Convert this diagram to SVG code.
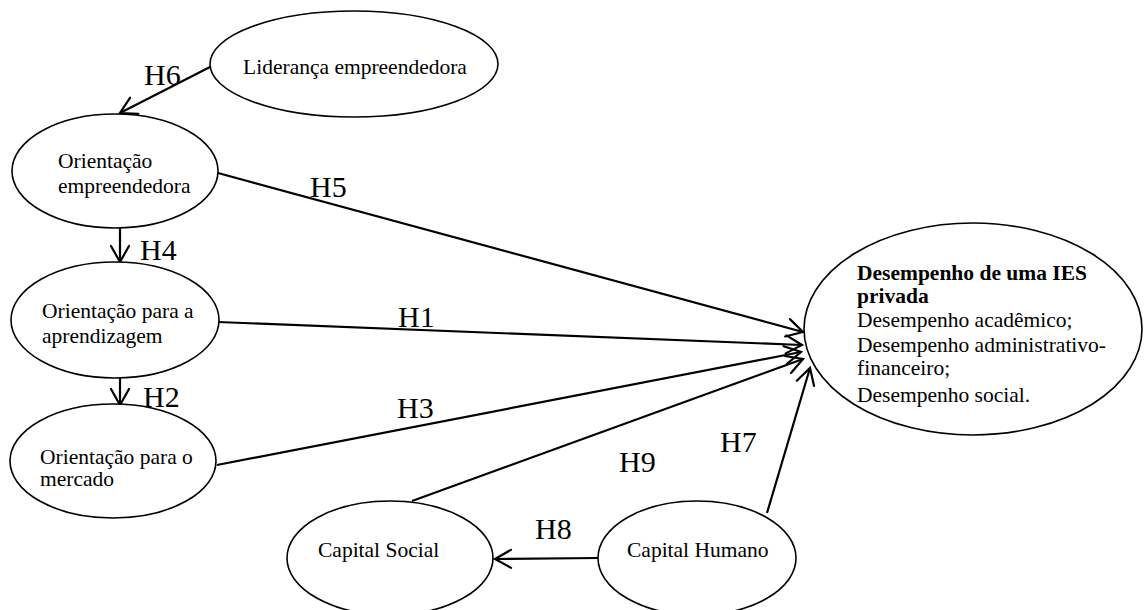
<svg xmlns="http://www.w3.org/2000/svg" width="1144" height="610" viewBox="0 0 1144 610">
  <defs>
    <marker id="open" markerUnits="userSpaceOnUse" markerWidth="40" markerHeight="40" viewBox="-20 -20 40 40" refX="0" refY="0" orient="auto" overflow="visible">
      <path d="M-16,-9 L0,0 L-16,9" fill="none" stroke="#000" stroke-width="2.2" stroke-linecap="round" stroke-linejoin="miter"/>
    </marker>
  </defs>
  <style>
    .node ellipse { fill: #fff; stroke: #000; stroke-width: 1.6; }
    .node text { font-family: "Liberation Serif", "Times New Roman", serif; font-size: 21.5px; fill: #000; }
    .node text.b { font-weight: bold; }
    .edges line { stroke: #000; stroke-width: 2.2; marker-end: url(#open); }
    .lbl { font-family: "Liberation Serif", "Times New Roman", serif; font-size: 30px; fill: #000; }
  </style>
  <rect width="1144" height="610" fill="#fff"/>

  <!-- connectors -->
  <g id="edges" class="edges">
    <line x1="210" y1="67" x2="120" y2="113"/>
    <line x1="120" y1="228" x2="120" y2="262"/>
    <line x1="120" y1="378" x2="120" y2="405"/>
    <line x1="218" y1="173" x2="803" y2="332"/>
    <line x1="218" y1="322" x2="802" y2="345"/>
    <line x1="217" y1="465" x2="801" y2="352"/>
    <line x1="412" y1="501" x2="803" y2="359"/>
    <line x1="767" y1="513" x2="810" y2="368"/>
    <line x1="598" y1="558" x2="495" y2="559"/>
  </g>

  <!-- hypothesis labels -->
  <g id="labels">
    <text class="lbl" x="144" y="85">H6</text>
    <text class="lbl" x="140" y="260">H4</text>
    <text class="lbl" x="143" y="407">H2</text>
    <text class="lbl" x="310" y="197">H5</text>
    <text class="lbl" x="398" y="327">H1</text>
    <text class="lbl" x="397" y="418">H3</text>
    <text class="lbl" x="619" y="472">H9</text>
    <text class="lbl" x="720" y="452">H7</text>
    <text class="lbl" x="535" y="539">H8</text>
  </g>

  <g id="lideranca" class="node">
    <ellipse cx="354" cy="64" rx="144" ry="53"/>
    <text x="355" y="74" text-anchor="middle">Liderança empreendedora</text>
  </g>

  <g id="orientacao-empreendedora" class="node">
    <ellipse cx="115" cy="171" rx="103" ry="57"/>
    <text x="58" y="168">Orientação</text>
    <text x="58" y="193">empreendedora</text>
  </g>

  <g id="orientacao-aprendizagem" class="node">
    <ellipse cx="115" cy="320" rx="104" ry="58"/>
    <text x="42" y="318">Orientação para a</text>
    <text x="42" y="343">aprendizagem</text>
  </g>

  <g id="orientacao-mercado" class="node">
    <ellipse cx="113" cy="461" rx="103" ry="57"/>
    <text x="40" y="464">Orientação para o</text>
    <text x="40" y="486">mercado</text>
  </g>

  <g id="desempenho" class="node">
    <ellipse cx="973" cy="329" rx="169" ry="106"/>
    <text class="b" x="857" y="280">Desempenho de uma IES</text>
    <text class="b" x="857" y="303">privada</text>
    <text x="857" y="327">Desempenho acadêmico;</text>
    <text x="857" y="352">Desempenho administrativo-</text>
    <text x="857" y="375">financeiro;</text>
    <text x="857" y="402">Desempenho social.</text>
  </g>

  <g id="capital-social" class="node">
    <ellipse cx="390" cy="558" rx="103" ry="57"/>
    <text x="318" y="557">Capital Social</text>
  </g>

  <g id="capital-humano" class="node">
    <ellipse cx="697" cy="558" rx="99" ry="57"/>
    <text x="627" y="557">Capital Humano</text>
  </g>
</svg>
